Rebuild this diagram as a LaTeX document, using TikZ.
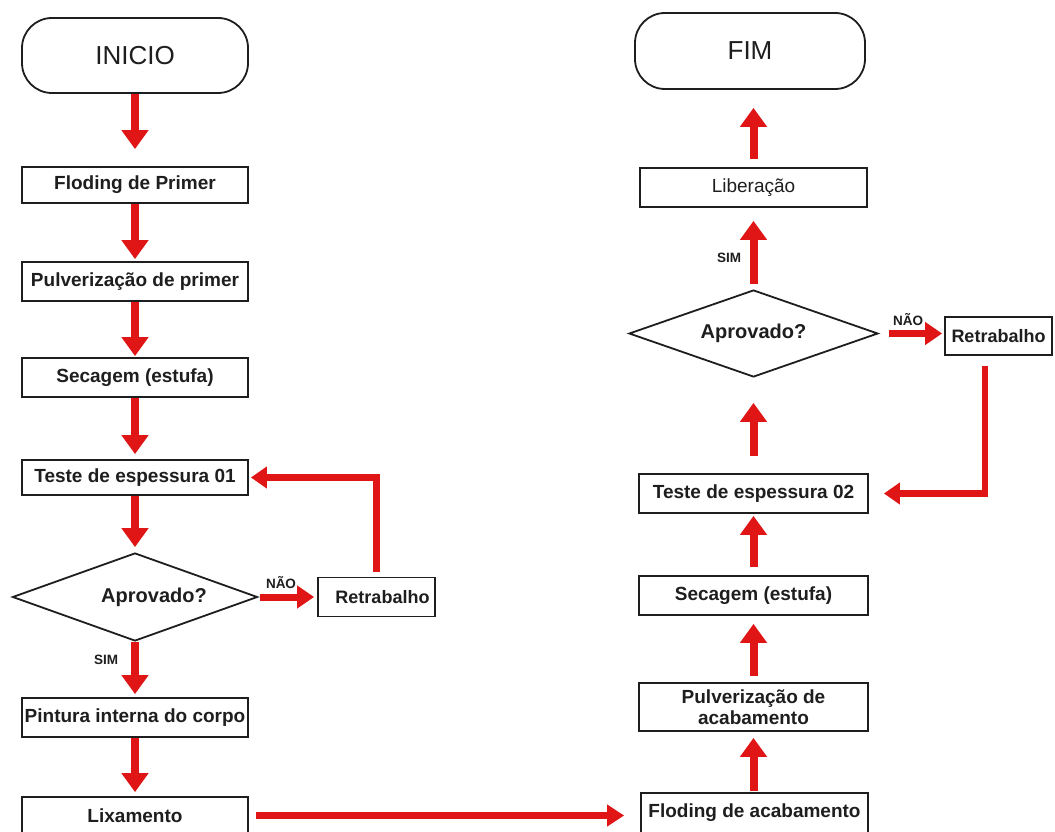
\documentclass[tikz,border=0pt]{standalone}
\usepackage{fontspec}
\setmainfont{Liberation Sans}
\usetikzlibrary{shapes.geometric,arrows.meta,calc}
\definecolor{flowred}{RGB}{224,22,22}
\definecolor{ink}{RGB}{30,30,30}

\begin{document}
\begin{tikzpicture}[x=1pt,y=-1pt,
  every node/.style={text=ink},
  term/.style={draw=ink,line width=1.8pt,fill=white,rectangle,rounded corners=30pt,
    inner sep=0pt,font=\fontsize{26}{28}\selectfont},
  proc/.style={draw=ink,line width=1.8pt,fill=white,rectangle,inner sep=0pt,
    font=\bfseries\fontsize{19}{21}\selectfont},
  decision/.style={draw=ink,line width=1.8pt,fill=white,diamond,aspect=2.8,inner sep=0pt,
    font=\bfseries\fontsize{20}{22}\selectfont},
  tag/.style={inner sep=0pt,font=\bfseries\fontsize{13.5}{15}\selectfont},
  flow/.style={draw=flowred,line width=8pt,-{Triangle[width=26pt,length=19pt]}},
  side/.style={draw=flowred,line width=7pt,-{Triangle[width=22pt,length=17pt]}},
  loopflow/.style={draw=flowred,line width=6.5pt,-{Triangle[width=21pt,length=16pt]}},
  longflow/.style={draw=flowred,line width=7.5pt,-{Triangle[width=21pt,length=17pt]}}]

\useasboundingbox (0,0) rectangle (1055,832);
\fill[white] (0,0) rectangle (1055,832);
\clip (0,0) rectangle (1055,832);

% left column
\node[term,minimum width=226pt,minimum height=75pt] (inicio) at (135,55.5) {INICIO};
\node[proc,minimum width=226pt,minimum height=36pt] (fp) at (135,185) {Floding de Primer};
\node[proc,minimum width=226pt,minimum height=39pt] (pp) at (135,281.5) {Pulverização de primer};
\node[proc,minimum width=226pt,minimum height=39pt] (sp) at (135,377.5) {Secagem (estufa)};
\node[proc,minimum width=226pt,minimum height=35pt] (t1) at (135,477.5) {Teste de espessura 01};
\node[decision,minimum width=245pt,minimum height=88pt] (d1) at (135,597) {\hspace*{38pt}Aprovado?};
\node[proc,minimum width=117pt,minimum height=39pt,font=\bfseries\fontsize{18}{20}\selectfont] (r1) at (376.5,597) {\hspace*{12pt}Retrabalho};
\node[proc,minimum width=226pt,minimum height=39pt] (pi) at (135,717.5) {Pintura interna do corpo};
\node[proc,minimum width=226pt,minimum height=37pt] (lx) at (135,815.5) {Lixamento};

% right column
\node[term,minimum width=230pt,minimum height=76pt] (fim) at (750,51) {FIM};
\node[proc,minimum width=227pt,minimum height=39pt,font=\fontsize{19}{21}\selectfont] (lb) at (753.5,187.5) {Liberação};
\node[decision,minimum width=249pt,minimum height=87pt] (d2) at (753.5,333.5) {Aprovado?};
\node[proc,minimum width=107pt,minimum height=38pt,font=\bfseries\fontsize{18}{20}\selectfont] (r2) at (998.5,336) {Retrabalho};
\node[proc,minimum width=229pt,minimum height=39pt] (t2) at (753.5,493.5) {Teste de espessura 02};
\node[proc,minimum width=229pt,minimum height=39pt] (s2) at (753.5,595.5) {Secagem (estufa)};
\node[proc,minimum width=229pt,minimum height=48pt,align=center] (p2) at (753.5,707) {Pulverização de\\acabamento};
\node[proc,minimum width=227pt,minimum height=40pt] (f2) at (754.5,813) {Floding de acabamento};

% branch labels
\node[tag] (nao1) at (281,583) {NÃO};
\node[tag] (sim1) at (106,660) {SIM};
\node[tag] (nao2) at (908,320) {NÃO};
\node[tag] (sim2) at (729,258) {SIM};

% left column flow
\draw[flow,shorten >=17pt] (inicio.south) -- (fp.north);
\draw[flow,shorten >=2pt] (fp.south) -- (pp.north);
\draw[flow,shorten >=1pt] (pp.south) -- (sp.north);
\draw[flow,shorten >=5pt] (sp.south) -- (t1.north);
\draw[flow,shorten >=5pt] (t1.south) -- (d1.north);
\draw[flow,shorten >=3pt] (d1.south) -- (pi.north);
\draw[flow,shorten >=4pt] (pi.south) -- (lx.north);
\draw[side,shorten <=2pt,shorten >=3pt] (d1.east) -- (r1.west);
\draw[loopflow,shorten <=5pt,shorten >=2pt] (r1.north) |- (t1.east);

% across to the finishing line
\draw[longflow,shorten <=7pt,shorten >=16pt] (lx.east) -- (lx.east -| f2.west);

% right column flow
\draw[flow,shorten <=1pt,shorten >=6pt] (f2.north -| p2.south) -- (p2.south);
\draw[flow,shorten <=6pt,shorten >=8pt] (p2.north) -- (s2.south);
\draw[flow,shorten <=8pt,shorten >=2pt] (s2.north) -- (t2.south);
\draw[flow,shorten <=17pt,shorten >=25pt] (t2.north) -- (d2.south);
\draw[flow,shorten <=5pt,shorten >=13pt] (d2.north) -- (lb.south);
\draw[flow,shorten <=8pt,shorten >=18pt] (lb.north) -- (lb.north |- fim.south);
\draw[side,shorten <=10pt,shorten >=2pt] (d2.east) -- (d2.east -| r2.west);
\draw[loopflow,shorten <=10pt,shorten >=15pt] ([xshift=-13.5pt]r2.south) |- (t2.east);

\end{tikzpicture}
\end{document}
